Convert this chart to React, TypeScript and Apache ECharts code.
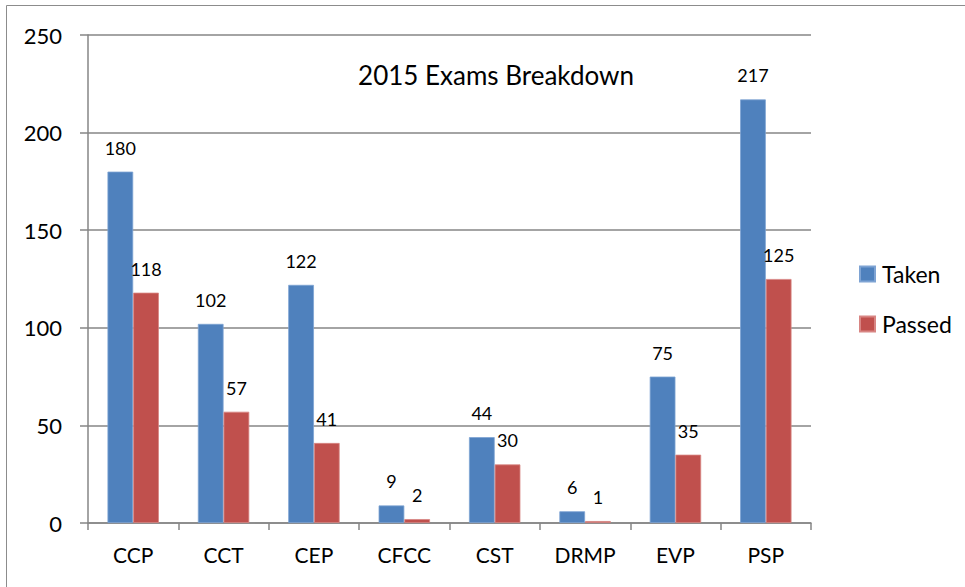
import React, { useEffect, useRef } from "react";
import * as echarts from "echarts";

const categories = ["CCP", "CCT", "CEP", "CFCC", "CST", "DRMP", "EVP", "PSP"];
const taken = [180, 102, 122, 9, 44, 6, 75, 217];
const passed = [118, 57, 41, 2, 30, 1, 35, 125];
const yTicks = { min: 0, max: 250, interval: 50 };
const titleText = "2015 Exams Breakdown";

const FONT = "Lato, 'Open Sans', sans-serif";

export default function App() {
  const ref = useRef<HTMLDivElement>(null);
  useEffect(() => {
    if (!ref.current) return;
    const chart = echarts.init(ref.current, undefined, { renderer: "svg" });
    const labelStyle = {
      show: true,
      position: "top" as const,
      distance: 15,
      color: "#000",
      fontSize: 18,
      fontFamily: FONT,
    };
    chart.setOption({
      animation: false,
      backgroundColor: "#fff",
      title: {
        text: titleText,
        left: 491,
        top: 57,
        textAlign: "center",
        textStyle: { fontFamily: FONT, fontSize: 26, fontWeight: "normal", color: "#000" },
      },
      legend: {
        orient: "vertical",
        left: 854,
        top: 256,
        itemWidth: 15,
        itemHeight: 15,
        itemGap: 24,
        icon: "rect",
        textStyle: { fontFamily: FONT, fontSize: 23, color: "#000", lineHeight: 26, padding: [0, 0, 0, 2] },
        data: ["Taken", "Passed"],
      },
      graphic: [
        {
          type: "rect",
          shape: { x: 6.5, y: 5.5, width: 1200, height: 1200 },
          style: { fill: "none", stroke: "#8c8c8c", lineWidth: 1 },
          silent: true,
        },
      ],
      grid: { left: 88, right: 154, top: 35, bottom: 64, containLabel: false },
      xAxis: {
        type: "category",
        data: categories,
        axisLine: { show: true, lineStyle: { color: "#868686", width: 1.5 } },
        axisTick: { show: true, length: 7, alignWithLabel: false, lineStyle: { color: "#868686", width: 1.5 } },
        axisLabel: { fontFamily: FONT, fontSize: 21, color: "#000", margin: 21 },
      },
      yAxis: {
        type: "value",
        min: yTicks.min,
        max: yTicks.max,
        interval: yTicks.interval,
        axisLine: { show: true, lineStyle: { color: "#868686", width: 1.5 } },
        axisTick: { show: true, length: 8, lineStyle: { color: "#868686", width: 1.5 } },
        axisLabel: { fontFamily: FONT, fontSize: 22, color: "#000", margin: 26 },
        splitLine: { show: true, lineStyle: { color: "#868686", width: 1.5 } },
      },
      series: [
        {
          name: "Taken",
          type: "bar",
          data: taken,
          barWidth: 25.7,
          barGap: "0%",
          itemStyle: { color: "#4F81BD", borderColor: "#7ea3d3", borderWidth: 0.8 },
          label: labelStyle,
        },
        {
          name: "Passed",
          type: "bar",
          data: passed,
          barWidth: 25.7,
          barGap: "0%",
          itemStyle: { color: "#C0504D", borderColor: "#d88583", borderWidth: 0.8 },
          label: labelStyle,
        },
      ],
    });
    return () => chart.dispose();
  }, []);
  return (
    <div
      ref={ref}
      style={{ position: "fixed", left: 0, top: 0, width: 965, height: 587 }}
    />
  );
}
